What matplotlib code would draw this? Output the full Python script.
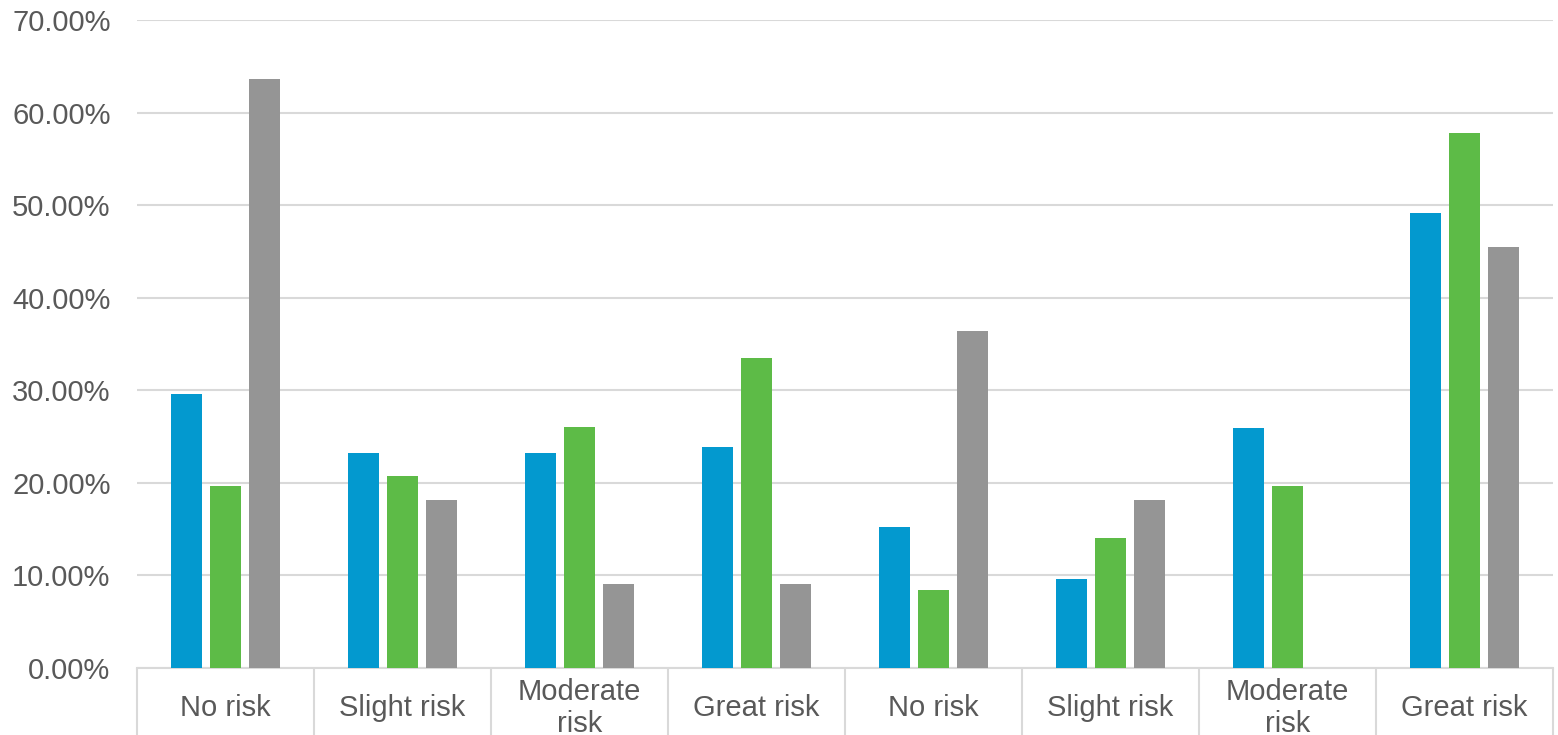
import numpy as np
import matplotlib

matplotlib.use("Agg")
import matplotlib.pyplot as plt

############### DATA ###############
categories = [
    "No risk", "Slight risk", "Moderate\nrisk", "Great risk",
    "No risk", "Slight risk", "Moderate\nrisk", "Great risk",
]
blue_vals = [29.6, 23.2, 23.2, 23.9, 15.2, 9.6, 25.9, 49.15]
green_vals = [19.7, 20.7, 26.0, 33.5, 8.4, 14.0, 19.7, 57.8]
gray_vals = [63.64, 18.18, 9.09, 9.09, 36.36, 18.18, 0.0, 45.45]
y_ticks = [0, 10, 20, 30, 40, 50, 60, 70]

colors = ["#0399CF", "#5DBB47", "#959595"]
text_color = "#595959"
grid_color = "#D9D9D9"

############### PLOT ###############
plt.rcParams["font.family"] = ["Liberation Sans", "DejaVu Sans"]

fig = plt.figure(figsize=(15.58, 7.35), dpi=100)
ax = fig.add_axes([137 / 1558, 67 / 735, (1553 - 137) / 1558, (668 - 20) / 735])

x = np.arange(len(categories))
width = 0.175
step = 0.22
for k, (vals, col) in enumerate(zip([blue_vals, green_vals, gray_vals], colors)):
    ax.bar(x + (k - 1) * step, vals, width=width, color=col, zorder=3)

ax.set_xlim(-0.5, len(categories) - 0.5)
ax.set_ylim(0, 70)
ax.set_yticks(y_ticks)
ax.set_yticklabels([f"{v:.2f}%" for v in y_ticks])
ax.yaxis.grid(True, color=grid_color, linewidth=1.5, zorder=0)
ax.tick_params(axis="y", length=0, pad=19, labelsize=21, labelcolor=text_color)

# category separators below the axis
ax.set_xticks(np.arange(len(categories) + 1) - 0.5)
ax.set_xticklabels([])
ax.tick_params(axis="x", length=48.5, width=1.5, color=grid_color, direction="out")

for i, cat in enumerate(categories):
    ax.text(i, -0.0615, cat, transform=ax.get_xaxis_transform(),
            ha="center", va="center", fontsize=21, color=text_color,
            linespacing=1.15)

for side in ["left", "right", "top"]:
    ax.spines[side].set_visible(False)
ax.spines["bottom"].set_color(grid_color)
ax.spines["bottom"].set_linewidth(1.5)

fig.savefig("out.png", dpi=100)
